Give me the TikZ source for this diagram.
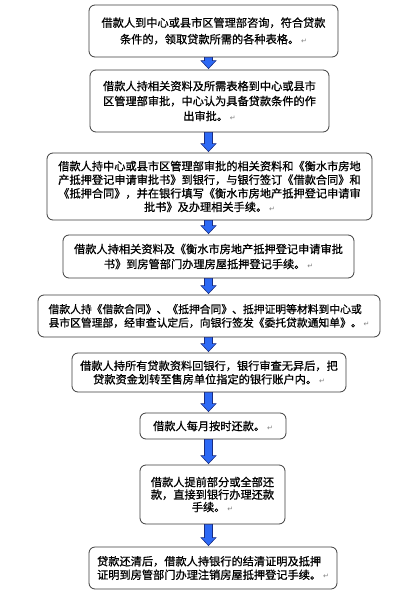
\documentclass[tikz,border=0pt]{standalone}
\usepackage{fontspec}
\setmainfont{Noto Sans CJK SC}[FakeBold=0.8]
\newfontfamily\symf{DejaVu Sans}
\usetikzlibrary{calc}
\definecolor{arrfill}{RGB}{45,105,245}
\definecolor{arrline}{RGB}{25,45,130}
\definecolor{boxline}{RGB}{60,60,60}
\newcommand\ret{\,{\symf\fontsize{7}{7}\selectfont\color{gray}↵}}
\newcommand\blkarrow[2]{%
  \path[arrowsty] let \p1=(#1.south), \p2=(#2.north) in
    (208.5pt-4pt,\y1) -- (208.5pt+4pt,\y1) -- (208.5pt+4pt,\y2+9pt) --
    (208.5pt+7.5pt,\y2+9pt) -- (208.5pt,\y2+1pt) -- (208.5pt-7.5pt,\y2+9pt) --
    (208.5pt-4pt,\y2+9pt) -- cycle;}
\tikzset{
  flowbox/.style={draw=boxline, line width=0.8pt, rounded corners=6pt, fill=white,
    align=center, inner sep=2pt, font=\fontsize{11.2}{14}\selectfont},
  arrowsty/.style={fill=arrfill, draw=arrline, line width=0.6pt}
}
\begin{document}
\begin{tikzpicture}[x=1pt,y=-1pt]
\useasboundingbox (0,0) rectangle (416,596);
\fill[white] (0,0) rectangle (416,596);
\node[flowbox, minimum width=249, minimum height=52, font=\fontsize{11.2}{16.5}\selectfont] (b1) at (213.5,31)
  {借款人到中心或县市区管理部咨询，符合贷款\\条件的，领取贷款所需的各种表格。\ret};
\node[flowbox, minimum width=239, minimum height=62, font=\fontsize{11.2}{15}\selectfont] (b2) at (209.5,101)
  {借款人持相关资料及所需表格到中心或县市\\区管理部审批，中心认为具备贷款条件的作\\出审批。\ret};
\node[flowbox, minimum width=325, minimum height=67, font=\fontsize{11.2}{13.6}\selectfont] (b3) at (209.5,186.5)
  {借款人持中心或县市区管理部审批的相关资料和《衡水市房地\\产抵押登记申请审批书》到银行，与银行签订《借款合同》和\\《抵押合同》，并在银行填写《衡水市房地产抵押登记申请审\\批书》及办理相关手续。\ret};
\node[flowbox, minimum width=291, minimum height=43, font=\fontsize{11.2}{15}\selectfont] (b4) at (208.5,256.5)
  {借款人持相关资料及《衡水市房地产抵押登记申请审批\\书》到房管部门办理房屋抵押登记手续。\ret};
\node[flowbox, minimum width=342, minimum height=42, align=left, font=\fontsize{10.8}{13.5}\selectfont] (b5) at (209,316)
  {借款人持《借款合同》、《抵押合同》、抵押证明等材料到中心或\\县市区管理部，经审查认定后，向银行签发《委托贷款通知单》。\ret};
\node[flowbox, minimum width=274, minimum height=39, font=\fontsize{11.2}{13.5}\selectfont] (b6) at (209,372.5)
  {借款人持所有贷款资料回银行，银行审查无异后，把\\贷款资金划转至售房单位指定的银行账户内。\ret};
\node[flowbox, minimum width=146, minimum height=26] (b7) at (213,426)
  {借款人每月按时还款。\ret};
\node[flowbox, minimum width=145, minimum height=59, font=\fontsize{11.2}{12.5}\selectfont] (b8) at (212.5,494.5)
  {借款人提前部分或全部还\\款，直接到银行办理还款\\手续。\ret};
\node[flowbox, minimum width=248, minimum height=42, align=left, font=\fontsize{11.2}{13.5}\selectfont] (b9) at (213,568)
  {贷款还清后，借款人持银行的结清证明及抵押\\证明到房管部门办理注销房屋抵押登记手续。\ret};
\blkarrow{b1}{b2}
\blkarrow{b2}{b3}
\blkarrow{b3}{b4}
\blkarrow{b4}{b5}
\blkarrow{b5}{b6}
\blkarrow{b6}{b7}
\blkarrow{b7}{b8}
\blkarrow{b8}{b9}
\end{tikzpicture}
\end{document}
